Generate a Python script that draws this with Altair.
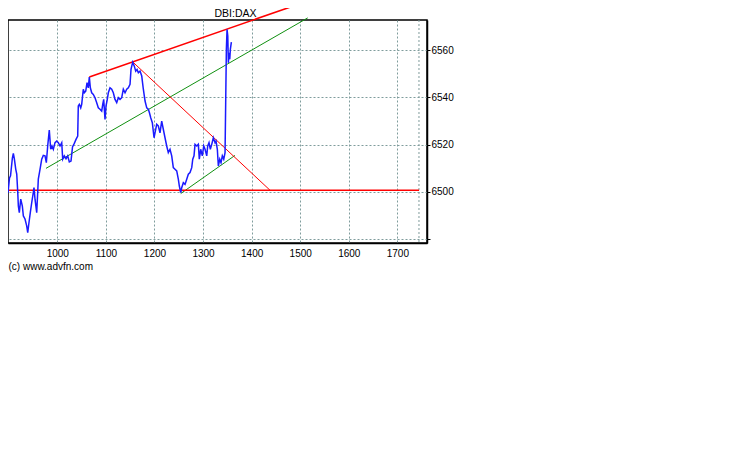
import altair as alt
import pandas as pd

# DBI:DAX intraday price
price_x = [898.5, 901.6, 903.7, 907.5, 909.5, 911.6, 914.4, 916.5, 918.6, 919.8,
           921.8, 924.7, 928.0, 930.1, 933.5, 937.0, 939.1, 941.7, 944.4, 947.3,
           950.0, 952.0, 954.1, 957.6, 959.6, 960.9, 964.4, 967.9, 971.2, 974.7,
           977.4, 980.2, 983.5, 986.4, 989.1, 991.8, 995.3, 998.8, 1002.1, 1005.6,
           1009.1, 1011.1, 1014.4, 1017.9, 1021.4, 1024.7, 1028.2, 1031.3, 1035.0, 1038.5,
           1042.0, 1043.2, 1045.3, 1048.2, 1050.2, 1053.5, 1055.6, 1058.5, 1061.2, 1063.8,
           1065.9, 1068.0, 1070.8, 1074.1, 1077.6, 1081.1, 1084.4, 1087.9, 1091.4, 1093.5,
           1095.5, 1098.2, 1100.3, 1102.9, 1105.0, 1108.5, 1112.0, 1115.3, 1118.8, 1122.3,
           1125.6, 1129.1, 1132.6, 1135.9, 1139.4, 1142.9, 1146.2, 1149.7, 1151.7, 1155.2,
           1158.5, 1161.4, 1164.1, 1166.8, 1170.3, 1173.8, 1177.1, 1180.6, 1184.1, 1187.4,
           1189.8, 1192.3, 1195.6, 1199.1, 1201.1, 1204.6, 1207.9, 1211.4, 1214.9, 1218.2,
           1221.7, 1225.2, 1228.5, 1232.0, 1235.5, 1238.8, 1242.3, 1245.8, 1249.1, 1251.2,
           1254.1, 1256.1, 1259.4, 1262.9, 1266.4, 1269.7, 1273.2, 1276.7, 1278.8, 1281.4,
           1283.5, 1287.0, 1290.3, 1292.3, 1295.2, 1298.5, 1301.4, 1304.1, 1307.6, 1309.6,
           1312.3, 1315.0, 1317.9, 1321.2, 1324.7, 1326.7, 1329.4, 1331.5, 1334.4, 1337.0,
           1339.7, 1342.6, 1345.3, 1346.7, 1348.0, 1349.4, 1350.9, 1352.1, 1353.5, 1355.0,
           1356.2, 1358.3]
price_y = [6499.5, 6505.8, 6506.7, 6514.3, 6516.3, 6513.9, 6509.6, 6507.5, 6499.6, 6493.9,
           6491.1, 6496.8, 6493.9, 6489.7, 6488.4, 6485.5, 6482.6, 6486.9, 6491.1, 6495.3,
           6498.9, 6501.7, 6496.8, 6491.1, 6499.6, 6505.3, 6509.5, 6513.8, 6515.4, 6515.2,
           6512.3, 6519.4, 6526.2, 6518.0, 6519.4, 6518.0, 6520.8, 6521.5, 6520.8, 6519.4,
           6520.8, 6513.8, 6515.2, 6514.0, 6515.2, 6512.6, 6513.0, 6519.0, 6520.5, 6522.2,
           6523.6, 6536.4, 6537.1, 6535.6, 6537.1, 6543.5, 6542.0, 6542.7, 6546.3, 6544.1,
           6548.7, 6544.1, 6542.0, 6541.3, 6539.9, 6537.8, 6535.6, 6535.0, 6534.2, 6537.1,
           6539.2, 6530.7, 6536.4, 6539.2, 6542.0, 6544.1, 6543.5, 6542.0, 6539.2, 6537.8,
           6539.9, 6539.2, 6539.9, 6543.5, 6542.0, 6543.5, 6544.1, 6545.6, 6551.9, 6555.0,
           6553.3, 6551.2, 6551.9, 6550.5, 6551.2, 6549.1, 6543.5, 6538.5, 6535.6, 6535.0,
           6533.4, 6531.4, 6529.3, 6522.9, 6525.0, 6528.6, 6527.9, 6525.0, 6530.0, 6526.5,
           6522.9, 6519.4, 6516.6, 6518.0, 6515.2, 6510.2, 6509.5, 6508.8, 6505.3, 6502.4,
           6499.6, 6501.7, 6503.8, 6503.1, 6505.3, 6507.4, 6508.1, 6510.2, 6513.8, 6515.2,
           6520.1, 6519.4, 6520.1, 6513.8, 6518.0, 6515.2, 6519.4, 6518.0, 6515.2, 6519.4,
           6520.8, 6518.0, 6520.1, 6522.9, 6520.8, 6521.5, 6518.0, 6510.9, 6513.8, 6512.3,
           6515.2, 6513.8, 6516.6, 6539.2, 6560.4, 6568.9, 6566.1, 6554.7, 6559.0, 6556.2,
           6560.4, 6563.5]

# Hand-drawn trend lines (start / end points)
trend_names = ["upper_red", "down_red", "support_red", "upper_green", "lower_green"]
trend_x1 = [1065.9, 1155.2, 898.5, 976.7, 1254.1]
trend_y1 = [6548.7, 6555.1, 6500.6, 6509.9, 6499.2]
trend_x2 = [1485.3, 1437.9, 1744.7, 1515.5, 1365.8]
trend_y2 = [6578.8, 6500.6, 6500.6, 6573.8, 6515.4]

x_ticks = [1000, 1100, 1200, 1300, 1400, 1500, 1600, 1700]
y_ticks = [6480, 6500, 6520, 6540, 6560]
end_marker = [1744.5]
x_domain = [898.5, 1761]
y_domain = [6478.2, 6572.9]

price = pd.DataFrame({"x": price_x, "y": price_y})
trends = pd.DataFrame({"name": trend_names, "x1": trend_x1, "y1": trend_y1,
                       "x2": trend_x2, "y2": trend_y2})
marker = pd.DataFrame({"x1": end_marker})

NARROW = "Liberation Sans Narrow, Liberation Sans, Arial, sans-serif"
GRID = "#7f9c9c"

xscale = alt.Scale(domain=x_domain, nice=False, zero=False)
yscale = alt.Scale(domain=y_domain, nice=False, zero=False)

xaxis = alt.Axis(values=x_ticks, format="d", grid=True, gridDash=[2, 2], gridColor=GRID,
                 gridWidth=1, ticks=False, labelPadding=5, labelFont=NARROW,
                 labelFontSize=10, labelColor="black", domainColor="black",
                 domainWidth=1.5, title="(c) www.advfn.com", titleAnchor="start",
                 titleAlign="left", titleFont="Liberation Sans, Arial, sans-serif",
                 titleFontSize=10, titleFontWeight="normal", titleColor="black",
                 titlePadding=3)
yaxis = alt.Axis(values=y_ticks, format="d", orient="right", grid=True, gridDash=[2, 2],
                 gridColor=GRID, gridWidth=1, tickSize=3, tickColor="black",
                 labelPadding=1, labelFont=NARROW, labelFontSize=10, labelColor="black",
                 domainColor="black", domainWidth=1.5, title=None,
                 labelExpr="datum.value == 6480 ? '' : datum.label")

line = alt.Chart(price).mark_line(color="#1a1aff", strokeWidth=1.5).encode(
    x=alt.X("x:Q", scale=xscale, axis=xaxis),
    y=alt.Y("y:Q", scale=yscale, axis=yaxis),
)

edge = alt.Chart(marker).mark_rule(color=GRID, strokeDash=[2, 2], strokeWidth=1).encode(
    x=alt.X("x1:Q", scale=xscale, axis=xaxis),
)


def trend(names, color, width):
    return alt.Chart(trends).transform_filter(
        alt.FieldOneOfPredicate(field="name", oneOf=names)
    ).mark_rule(color=color, strokeWidth=width, clip=False).encode(
        x=alt.X("x1:Q", scale=xscale, axis=xaxis),
        y=alt.Y("y1:Q", scale=yscale, axis=yaxis),
        x2="x2:Q",
        y2="y2:Q",
    )


chart = alt.layer(
    edge,
    trend(["upper_green", "lower_green"], "#109010", 1),
    trend(["down_red"], "#ff0000", 1),
    trend(["upper_red", "support_red"], "#ff0000", 1.6),
    line,
).properties(
    width=419,
    height=223,
    autosize=alt.AutoSizeParams(type="none"),
    padding={"left": 0, "top": 12, "right": 40, "bottom": 50},
    background="white",
    title=alt.TitleParams("DBI:DAX", anchor="middle", frame="group", dx=18,
                          font=NARROW, fontSize=10.5, fontWeight="normal",
                          color="black", offset=-14),
).configure_view(stroke="black", strokeWidth=1.5)

chart.save("out.html", embed_options={"renderer": "svg", "actions": False})
